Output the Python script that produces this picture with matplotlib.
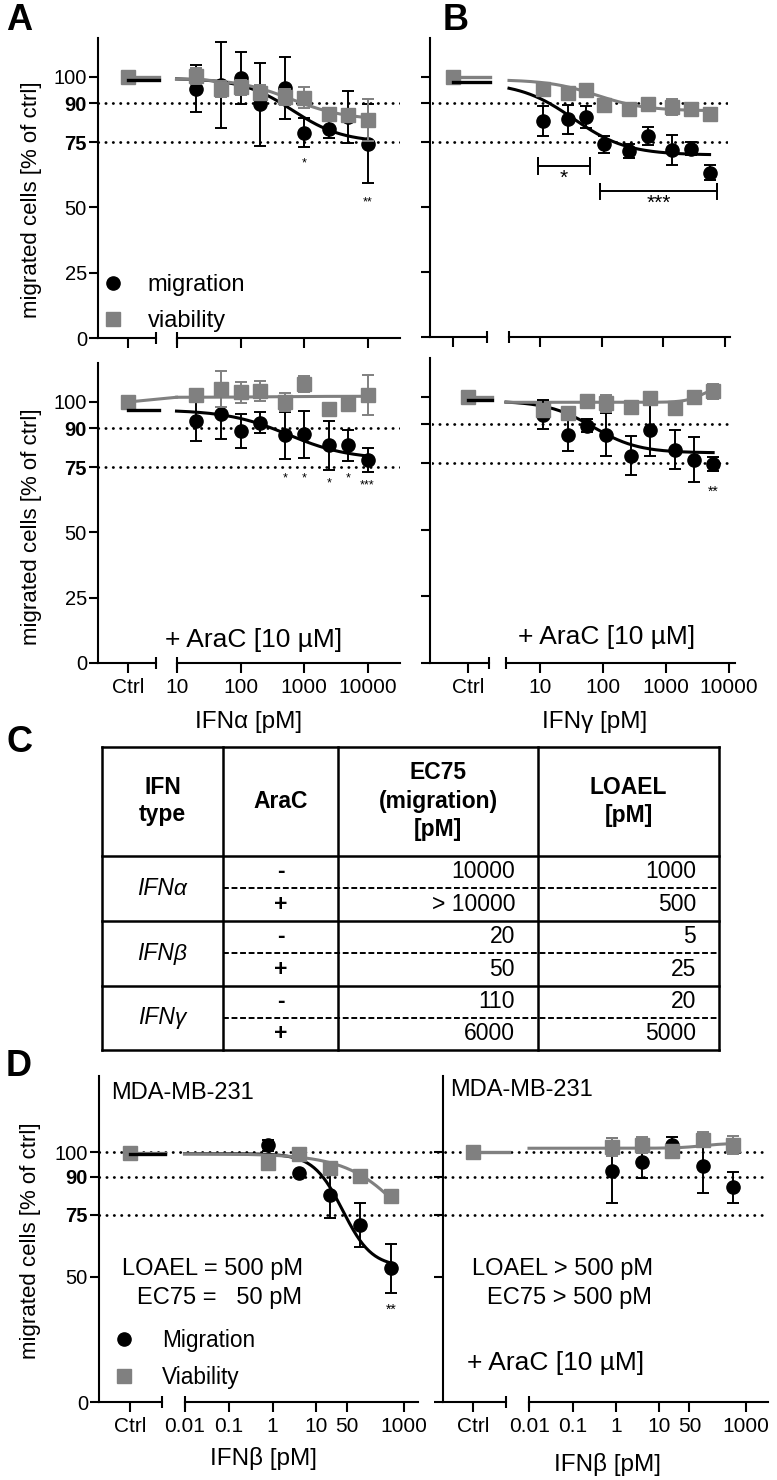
import numpy as np
import matplotlib.pyplot as plt
from matplotlib.lines import Line2D
from matplotlib.ticker import FixedLocator, NullLocator

plt.rcParams['font.family'] = ['Liberation Sans', 'DejaVu Sans']
plt.rcParams['axes.facecolor'] = 'none'

W, H = 777, 1480
GRAY = '#808080'

# ---------------- data ----------------
# A top: IFN-alpha, no AraC
a1_conc = [20, 50, 100, 200, 500, 1000, 2500, 5000, 10000]
a1_mig = [95.5, 97, 99.6, 89.5, 95.8, 78.7, 80, 84.7, 74.5]
a1_mig_err = [9, 16.5, 10, 16, 12, 5.5, 3.5, 10, 15]
a1_via = [100.3, 95.5, 96, 94, 92.3, 92, 86, 85.5, 83.6]
a1_via_err = [3, 3, 3, 3, 3, 4, 2, 2, 8]
a1_ctrl = [99, 100]                 # migration, viability
a1_fit_mig = [99.5, 75, 2.82, 1.1]  # top, bottom, logEC50, hill
a1_fit_via = [99.5, 83.5, 2.8, 1.0]
a1_star_conc = [1000, 10000]
a1_star_txt = ['*', '**']
a1_star_y = [67, 52]

# A bottom: IFN-alpha + AraC
a2_conc = [20, 50, 100, 200, 500, 1000, 2500, 5000, 10000]
a2_mig = [92.6, 95.5, 89, 92, 87.2, 87.6, 83.4, 83.4, 77.7]
a2_mig_err = [7.4, 9.5, 6.5, 4, 9, 9, 9.5, 6, 4.7]
a2_via = [102.8, 105, 103.8, 104.2, 100, 107, 97.4, 99.4, 102.6]
a2_via_err = [1.5, 7, 4, 4, 3.6, 3, 2, 1.5, 7.6]
a2_ctrl = [96.8, 100]
a2_fit_mig = [97, 78, 2.75, 0.9]
a2_fit_via = [101.8, 102.2, 2.5, 1.0]
a2_star_conc = [500, 1000, 2500, 5000, 10000]
a2_star_txt = ['*', '*', '*', '*', '***']
a2_star_y = [70.9, 70.9, 68.7, 70.6, 68]

# B top: IFN-gamma, no AraC
b1_conc = [11, 28, 56, 110, 280, 560, 1400, 2800, 5600]
b1_mig = [83, 83.7, 84.6, 74.1, 71.5, 77.2, 72, 72.4, 63.2]
b1_mig_err = [5.8, 5.5, 4.3, 3.4, 2.7, 3.4, 5.7, 2.5, 3]
b1_via = [95.5, 93.8, 95.1, 89.1, 87.8, 89.5, 88.5, 87.8, 85.9]
b1_via_err = [1, 1, 1, 1, 1, 1.5, 3, 1, 1]
b1_ctrl = [98, 100]
b1_fit_mig = [98, 70, 1.54, 1.0]
b1_fit_via = [99, 87, 1.92, 1.1]
b1_br_from = [9.3, 94]
b1_br_to = [65, 7400]
b1_br_y = [65.8, 56]
b1_br_txt = ['*', '***']
b1_br_txt_y = [61, 51.3]

# B bottom: IFN-gamma + AraC
b2_conc = [11, 28, 56, 110, 280, 560, 1400, 2800, 5600]
b2_mig = [93.4, 85.8, 89.2, 85.8, 77.9, 87.7, 80.2, 76.4, 74.8]
b2_mig_err = [5.5, 6, 2.4, 8, 7.4, 9.7, 7.3, 8.5, 2.5]
b2_via = [95, 94, 98.4, 97.7, 96.2, 99.6, 95.9, 100, 102.1]
b2_via_err = [1, 1, 1, 3.2, 1, 1, 1, 1, 2.8]
b2_ctrl = [99, 100]
b2_fit_mig = [98.5, 79, 1.84, 1.2]
b2_fit_via = [98, 104.5, 3.6, 3.0]
b2_star_conc = [5600]
b2_star_txt = ['**']
b2_star_y = [64.5]

# D left: IFN-beta, MDA-MB-231
d1_conc = [0.8, 4, 20, 100, 500]
d1_mig = [102.7, 91.6, 82.7, 70.7, 53.5]
d1_mig_err = [2.3, 1, 9, 8.8, 9.7]
d1_via = [95.7, 99.3, 93.7, 90.3, 82.3]
d1_via_err = [1, 1, 1, 1, 1]
d1_ctrl = [99.3, 99.7]
d1_fit_mig = [99.3, 54, 1.6, 1.3]
d1_fit_via = [99.3, 40, 3.3, 0.6]
d1_star_conc = [500]
d1_star_txt = ['**']
d1_star_y = [36.8]

# D right: IFN-beta + AraC
d2_conc = [0.8, 4, 20, 100, 500]
d2_mig = [92.6, 95.9, 102.8, 94.3, 85.9]
d2_mig_err = [13, 6.3, 3.3, 10.8, 6.2]
d2_via = [102.1, 102.9, 100.5, 104.9, 102.9]
d2_via_err = [3.6, 3.3, 2, 3, 3.5]
d2_ctrl = [None, 100.1]
d2_fit_via = [101.5, 103.5, 2.0, 1.5]

# C: table
tbl_ifn = ['IFNα', 'IFNβ', 'IFNγ']
tbl_arac = ['-', '+']
tbl_ec75 = ['10000', '> 10000', '20', '50', '110', '6000']
tbl_loael = ['1000', '500', '5', '25', '20', '5000']

ifna_ticks = [10, 100, 1000, 10000]
ifna_labels = ['10', '100', '1000', '10000']
ifnb_ticks = [0.01, 0.1, 1, 10, 50, 1000]
ifnb_labels = ['0.01', '0.1', '1', '10', '50', '1000']

fig = plt.figure(figsize=(W / 100, H / 100), dpi=100)


def px_box(l, t, r, b):
    return [l / W, 1 - b / H, (r - l) / W, (b - t) / H]


def logistic(lx, p):
    top, bottom, logec, hill = p
    return top + (bottom - top) / (1 + 10 ** ((logec - lx) * hill))


def panel(lay, conc, mig, mig_err, via, via_err, ctrl, fit_mig, fit_via,
          xticks, xlabels, yticks, ylabels_on, bridge=False):
    L, T, E, m0, m1, t, b, y100, ref_px, ref_log, dec = lay
    ymax = (b - t) * 100 / (b - y100)
    lo = ref_log + (m0 - ref_px) / dec
    hi = ref_log + (m1 - ref_px) / dec

    axc = fig.add_axes(px_box(L, t, E, b), zorder=2)
    axm = fig.add_axes(px_box(m0, t, m1, b), zorder=2)
    axc.set_xlim(L - T, E - T)
    axm.set_xscale('log')
    axm.set_xlim(10 ** lo, 10 ** hi)
    for ax in (axc, axm):
        ax.set_ylim(0, ymax)
        ax.spines[['top', 'right']].set_visible(False)
        ax.spines['bottom'].set_linewidth(1.5)
        ax.tick_params(axis='x', width=1.5, length=7, labelsize=15, pad=4)
    axm.spines['left'].set_visible(False)
    axm.tick_params(axis='y', left=False, labelleft=False)
    axc.spines['left'].set_linewidth(1.5)
    axc.tick_params(axis='y', width=1.5, length=6.5, labelsize=14.5, pad=1.5)

    axc.set_xticks([0])
    axc.set_xticklabels(['Ctrl'] if xlabels is not None else [''])
    axm.xaxis.set_major_locator(FixedLocator(xticks))
    axm.xaxis.set_minor_locator(NullLocator())
    if xlabels is not None:
        axm.set_xticklabels(xlabels)
    else:
        axm.set_xticklabels([''] * len(xticks))

    axc.set_yticks(yticks)
    if ylabels_on:
        axc.set_yticklabels([str(v) for v in yticks])
        for lab, v in zip(axc.get_yticklabels(), yticks):
            if v in (75, 90):
                lab.set_fontweight('bold')
    else:
        axc.set_yticklabels([''] * len(yticks))

    # axis break caps
    axc.plot([E - T], [0], marker='|', ms=9, mew=1.5, color='k', clip_on=False, zorder=6)
    axm.plot([10 ** lo], [0], marker='|', ms=9, mew=1.5, color='k', clip_on=False, zorder=6)

    # fitted dose-response curves from the main-axis start to the highest dose
    lx = np.linspace(lo, np.log10(conc[-1]), 200)
    if fit_mig is not None:
        axm.plot(10 ** lx, logistic(lx, fit_mig), color='k', lw=2.2, zorder=2, clip_on=False)
    axm.plot(10 ** lx, logistic(lx, fit_via), color=GRAY, lw=2.2, zorder=2, clip_on=False)

    if mig is not None:
        axm.errorbar(conc, mig, yerr=mig_err, fmt='o', color='k', ms=9.5,
                     elinewidth=1.4, capsize=4, capthick=1.4, zorder=3, clip_on=False)
    axm.errorbar(conc, via, yerr=via_err, fmt='s', color=GRAY, ms=9.5,
                 elinewidth=1.4, capsize=4, capthick=1.4, zorder=4, clip_on=False)

    c_mig, c_via = ctrl
    if bridge:
        axc.plot([0, m0 - T], [c_via, logistic(lo, fit_via)], color=GRAY, lw=2.2,
                 clip_on=False, zorder=2)
    else:
        axc.plot([0, E - T + 3], [c_via, c_via], color=GRAY, lw=2.4, clip_on=False, zorder=2)
    if c_mig is not None:
        axc.plot([0, E - T + 3], [c_mig, c_mig], color='k', lw=2.4, clip_on=False, zorder=5)
    axc.plot([0], [c_via], 's', color=GRAY, ms=9.5, clip_on=False, zorder=4)
    return axc, axm


def dotted(l, r, t, b, y100, levels):
    ax = fig.add_axes(px_box(l, t, r, b), zorder=1)
    ax.set_xlim(0, 1)
    ax.set_ylim(0, (b - t) * 100 / (b - y100))
    ax.axis('off')
    for v in levels:
        ax.axhline(v, color='k', lw=2.0, ls=(0, (0.1, 2.55)), dash_capstyle='round')


def stars(ax, xs, txt, ys, size):
    for x, s, y in zip(xs, txt, ys):
        ax.text(x, y, s, ha='center', va='center', fontsize=size)


yt6 = [0, 25, 50, 75, 90, 100]
yt5 = [0, 50, 75, 90, 100]

# layouts: L, ctrl tick, ctrl end, main start, main end, top, bottom, y(100), ref px, ref log, decade px
lay_a1 = (98, 128, 156, 176.5, 400, 38, 338, 77, 177, 1, 63.5)
lay_a2 = (98, 128, 156, 176.5, 400, 363, 663, 402, 177, 1, 63.5)
lay_b1 = (430, 453, 487, 509, 730, 38, 337, 77, 540, 1, 61.7)
lay_b2 = (430, 468, 489, 506, 735, 358, 663, 397, 540, 1, 63)
lay_d1 = (99, 130, 162, 184.5, 418, 1076, 1402, 1152, 185, -2, 43.8)
lay_d2 = (443, 473, 506, 529, 768, 1076, 1402, 1152, 529.3, -2, 43.3)

dotted(98, 400, 38, 338, 77, [90, 75])
dotted(98, 400, 363, 663, 402, [90, 75])
dotted(432, 728, 38, 337, 77, [90, 75])
dotted(432, 733, 358, 663, 397, [90, 75])
dotted(99, 768, 1076, 1402, 1152, [100, 90, 75])

ca1, ma1 = panel(lay_a1, a1_conc, a1_mig, a1_mig_err, a1_via, a1_via_err, a1_ctrl,
                 a1_fit_mig, a1_fit_via, ifna_ticks, None, yt6, True)
stars(ma1, a1_star_conc, a1_star_txt, a1_star_y, 9)

ca2, ma2 = panel(lay_a2, a2_conc, a2_mig, a2_mig_err, a2_via, a2_via_err, a2_ctrl,
                 a2_fit_mig, a2_fit_via, ifna_ticks, ifna_labels, yt6, True, bridge=True)
stars(ma2, a2_star_conc, a2_star_txt, a2_star_y, 9)

cb1, mb1 = panel(lay_b1, b1_conc, b1_mig, b1_mig_err, b1_via, b1_via_err, b1_ctrl,
                 b1_fit_mig, b1_fit_via, ifna_ticks, None, yt6, False)
for x1, x2, y in zip(b1_br_from, b1_br_to, b1_br_y):
    mb1.plot([x1, x1, x1, x2, x2, x2], [y - 3, y + 3, y, y, y + 3, y - 3],
             color='k', lw=1.4, zorder=3)
stars(mb1, [np.sqrt(a * c) for a, c in zip(b1_br_from, b1_br_to)], b1_br_txt, b1_br_txt_y, 15)

cb2, mb2 = panel(lay_b2, b2_conc, b2_mig, b2_mig_err, b2_via, b2_via_err, b2_ctrl,
                 b2_fit_mig, b2_fit_via, ifna_ticks, ifna_labels, yt6, False)
stars(mb2, b2_star_conc, b2_star_txt, b2_star_y, 10)

cd1, md1 = panel(lay_d1, d1_conc, d1_mig, d1_mig_err, d1_via, d1_via_err, d1_ctrl,
                 d1_fit_mig, d1_fit_via, ifnb_ticks, ifnb_labels, yt5, True)
stars(md1, d1_star_conc, d1_star_txt, d1_star_y, 10)

cd2, md2 = panel(lay_d2, d2_conc, d2_mig, d2_mig_err, d2_via, d2_via_err, d2_ctrl,
                 None, d2_fit_via, ifnb_ticks, ifnb_labels, yt5, False)

# legends
h_mig = Line2D([], [], ls='none', marker='o', color='k', ms=9.5)
h_via = Line2D([], [], ls='none', marker='s', color=GRAY, ms=9.5)
fig.legend([h_mig, h_via], ['migration', 'viability'], loc='center left',
           bbox_to_anchor=(101 / W, 1 - 303 / H), frameon=False, fontsize=17,
           handlelength=1.0, handletextpad=0.98, labelspacing=0.58,
           borderpad=0, borderaxespad=0)
fig.legend([h_mig, h_via], ['Migration', 'Viability'], loc='center left',
           bbox_to_anchor=(113 / W, 1 - 1359 / H), frameon=False, fontsize=16.3,
           handlelength=1.0, handletextpad=1.17, labelspacing=0.62,
           borderpad=0, borderaxespad=0)


def ftext(x, y, s, **kw):
    fig.text(x / W, 1 - y / H, s, **kw)


# axis labels
ylab = 'migrated cells [% of ctrl]'
ftext(32, 200, ylab, rotation=90, ha='center', va='center', fontsize=16)
ftext(32, 527, ylab, rotation=90, ha='center', va='center', fontsize=16)
ftext(31, 1241, ylab, rotation=90, ha='center', va='center', fontsize=16)
ftext(249, 722, 'IFNα [pM]', ha='center', va='center', fontsize=17.5)
ftext(595, 722, 'IFNγ [pM]', ha='center', va='center', fontsize=17.5)
ftext(263, 1458, 'IFNβ [pM]', ha='center', va='center', fontsize=17.5)
ftext(607, 1464, 'IFNβ [pM]', ha='center', va='center', fontsize=17.5)

# in-panel texts
ftext(165, 640, '+ AraC [10 µM]', ha='left', va='center', fontsize=19)
ftext(518, 637, '+ AraC [10 µM]', ha='left', va='center', fontsize=19)
ftext(467, 1363, '+ AraC [10 µM]', ha='left', va='center', fontsize=19)
ftext(111, 1093, 'MDA-MB-231', ha='left', va='center', fontsize=17)
ftext(450, 1090, 'MDA-MB-231', ha='left', va='center', fontsize=17)
ftext(303, 1269, 'LOAEL = 500 pM', ha='right', va='center', fontsize=17)
ftext(302, 1298, 'EC75 =   50 pM', ha='right', va='center', fontsize=17)
ftext(653, 1269, 'LOAEL > 500 pM', ha='right', va='center', fontsize=17)
ftext(652, 1298, 'EC75 > 500 pM', ha='right', va='center', fontsize=17)

# panel letters
for s, x, y in [('A', 19, 20), ('B', 456, 20), ('C', 19, 742), ('D', 19, 1066)]:
    ftext(x, y, s, ha='center', va='center', fontsize=26, fontweight='bold')

# ---------------- C: table ----------------
axt = fig.add_axes([0, 0, 1, 1], zorder=0)
axt.set_xlim(0, W)
axt.set_ylim(H, 0)
axt.axis('off')
cols = [102, 223, 338, 538, 719]
rows = [747, 855.5, 920.7, 985.7, 1050]
for x in cols:
    axt.plot([x, x], [rows[0], rows[-1]], color='k', lw=1.8, solid_capstyle='projecting')
for y in rows:
    axt.plot([cols[0], cols[-1]], [y, y], color='k', lw=1.8, solid_capstyle='projecting')
hy = (rows[0] + rows[1]) / 2
axt.text((cols[0] + cols[1]) / 2, hy, 'IFN\ntype', ha='center', va='center',
         fontsize=16.5, fontweight='bold', linespacing=1.2)
axt.text((cols[1] + cols[2]) / 2, hy, 'AraC', ha='center', va='center',
         fontsize=16.5, fontweight='bold')
axt.text((cols[2] + cols[3]) / 2, hy, 'EC75\n(migration)\n[pM]', ha='center', va='center',
         fontsize=16.5, fontweight='bold', linespacing=1.3)
axt.text((cols[3] + cols[4]) / 2, hy, 'LOAEL\n[pM]', ha='center', va='center',
         fontsize=16.5, fontweight='bold', linespacing=1.3)
for i, name in enumerate(tbl_ifn):
    top, bot = rows[i + 1], rows[i + 2]
    mid = (top + bot) / 2
    axt.plot([cols[1], cols[-1]], [mid, mid], color='k', lw=1.4, ls=(0, (3, 1.4)))
    axt.text((cols[0] + cols[1]) / 2, mid, name, ha='center', va='center',
             fontsize=16.5, style='italic')
    for j, sign in enumerate(tbl_arac):
        yy = top + (bot - top) * (0.25 + 0.5 * j)
        axt.text((cols[1] + cols[2]) / 2, yy, sign, ha='center', va='center',
                 fontsize=16.5, fontweight='bold')
        axt.text(cols[3] - 23, yy, tbl_ec75[2 * i + j], ha='right', va='center', fontsize=16.5)
        axt.text(cols[4] - 23, yy, tbl_loael[2 * i + j], ha='right', va='center', fontsize=16.5)

fig.savefig('out.png', dpi=100)
